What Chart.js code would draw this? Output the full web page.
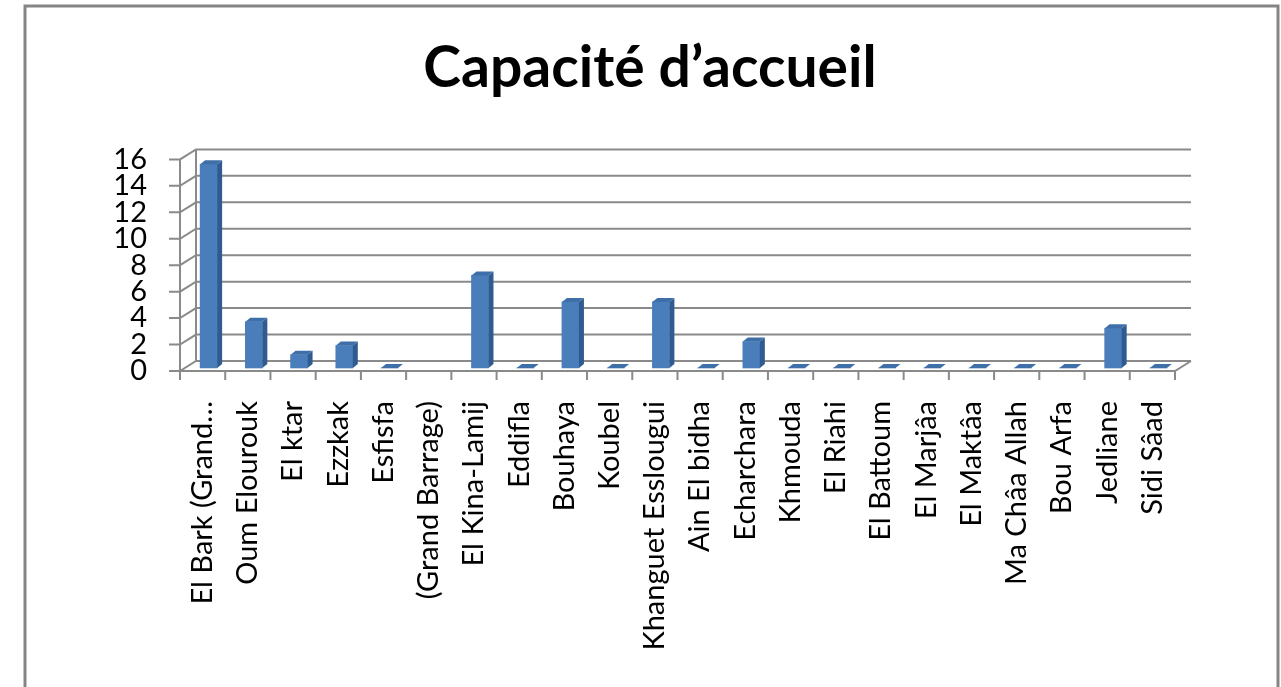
<!DOCTYPE html>
<html>
<head>
<meta charset="utf-8">
<script src="https://cdn.jsdelivr.net/npm/chart.js@4.4.0/dist/chart.umd.min.js"></script>
<style>
  html,body{margin:0;padding:0;background:#fff;}
  #wrap{width:1281px;height:687px;position:relative;}
</style>
</head>
<body>
<div id="wrap"><canvas id="cap-chart" width="1281" height="687"></canvas></div>
<script>
// data
const categories=['El Bark (Grand…','Oum Elourouk','El ktar','Ezzkak','Esfisfa','(Grand Barrage)','El Kina-Lamij','Eddifla','Bouhaya','Koubel','Khanguet Esslougui','Ain El bidha','Echarchara','Khmouda','El Riahi','El Battoum','El Marjâa','El Maktâa','Ma Châa Allah','Bou Arfa','Jedliane','Sidi Sâad'];
const capacite=[15.4,3.5,1,1.7,0,null,7,0,5,0,5,0,2,0,0,0,0,0,0,0,3,0];
const yTicks=[0,2,4,6,8,10,12,14,16];
const titre='Capacité d’accueil';

const DX=16, DY=-10;      // depth of the back wall
const BDX=5, BDY=-4;      // depth of one bar
const SHIFT_X=6, SHIFT_Y=-3;

// frame + 3d walls
const wallPlugin={
  id:'wall',
  beforeDraw(chart){
    const c=chart.ctx;
    c.save();
    c.strokeStyle='#858585';
    c.lineWidth=3;
    c.strokeRect(25,6,1253,700);
    c.restore();
  },
  beforeDatasetsDraw(chart){
    const c=chart.ctx, a=chart.chartArea, y=chart.scales.y;
    c.save();
    c.strokeStyle='#8a8a8a';
    c.lineWidth=2;
    yTicks.forEach(v=>{
      const py=y.getPixelForValue(v);
      c.beginPath();
      c.moveTo(a.left-11,py);
      c.lineTo(a.left,py);
      c.lineTo(a.left+DX,py+DY);
      c.lineTo(a.right+DX,py+DY);
      c.stroke();
    });
    // back wall left edge
    c.beginPath();
    c.moveTo(a.left+DX,y.getPixelForValue(16)+DY);
    c.lineTo(a.left+DX,y.getPixelForValue(0)+DY);
    c.stroke();
    // front axis
    c.beginPath();
    c.moveTo(a.left,y.getPixelForValue(16));
    c.lineTo(a.left,y.getPixelForValue(0));
    c.stroke();
    // floor
    const b=y.getPixelForValue(0);
    c.beginPath();
    c.moveTo(a.left,b);
    c.lineTo(a.right,b);
    c.lineTo(a.right+DX,b+DY);
    c.stroke();
    // category ticks
    const step=(a.right-a.left)/categories.length;
    for(let i=0;i<=categories.length;i++){
      const px=a.left+i*step;
      c.beginPath();
      c.moveTo(px,b);
      c.lineTo(px,b+9);
      c.stroke();
    }
    c.restore();
    // bars sit a bit back in depth
    c.save();
    c.translate(SHIFT_X,SHIFT_Y);
  },
  afterDatasetsDraw(chart){
    const c=chart.ctx;
    const meta=chart.getDatasetMeta(0);
    meta.data.forEach((bar,i)=>{
      if(capacite[i]===null) return;
      const {x,y,base,width}=bar.getProps(['x','y','base','width'],true);
      const l=x-width/2, r=x+width/2;
      // side face
      c.fillStyle='#2f5b91';
      c.beginPath();
      c.moveTo(r,y);c.lineTo(r+BDX,y+BDY);c.lineTo(r+BDX,base+BDY);c.lineTo(r,base);
      c.closePath();c.fill();
      // top face
      c.fillStyle='#3f6fa8';
      c.beginPath();
      c.moveTo(l,y);c.lineTo(r,y);c.lineTo(r+BDX,y+BDY);c.lineTo(l+BDX,y+BDY);
      c.closePath();c.fill();
    });
    c.restore();
  }
};

const ctx=document.getElementById('cap-chart').getContext('2d');
const myChart=new Chart(ctx,{
  type:'bar',
  data:{
    labels:categories,
    datasets:[{
      label:'Capacité',
      data:capacite,
      backgroundColor:'#4a7ebb',
      borderWidth:0,
      barThickness:17,
      clip:false
    }]
  },
  options:{
    responsive:false,
    animation:false,
    layout:{padding:{left:19,right:0,top:0,bottom:0}},
    plugins:{
      legend:{display:false},
      tooltip:{enabled:false},
      title:{
        display:true,
        text:titre,
        color:'#000',
        font:{family:'Lato',size:57,weight:'bold'},
        padding:{top:34,bottom:57}
      }
    },
    scales:{
      x:{
        grid:{display:false,drawTicks:false},
        border:{display:false},
        ticks:{
          color:'#000',
          font:{family:'Lato',size:29},
          minRotation:90,maxRotation:90,
          autoSkip:false,
          padding:30
        },
        afterFit(s){ s.height=687-371; }
      },
      y:{
        min:0,max:16,
        grid:{display:false,drawTicks:false},
        border:{display:false},
        afterBuildTicks(s){ s.ticks=yTicks.map(v=>({value:v})); },
        ticks:{
          color:'#000',
          font:{family:'Lato',size:29},
          padding:33,
          autoSkip:false
        },
        afterFit(s){ s.width=161; }
      },
      yr:{
        position:'right',
        display:true,
        grid:{display:false,drawTicks:false},
        border:{display:false},
        ticks:{display:false},
        afterFit(s){ s.width=106; }
      }
    }
  },
  plugins:[wallPlugin]
});
</script>
</body>
</html>
